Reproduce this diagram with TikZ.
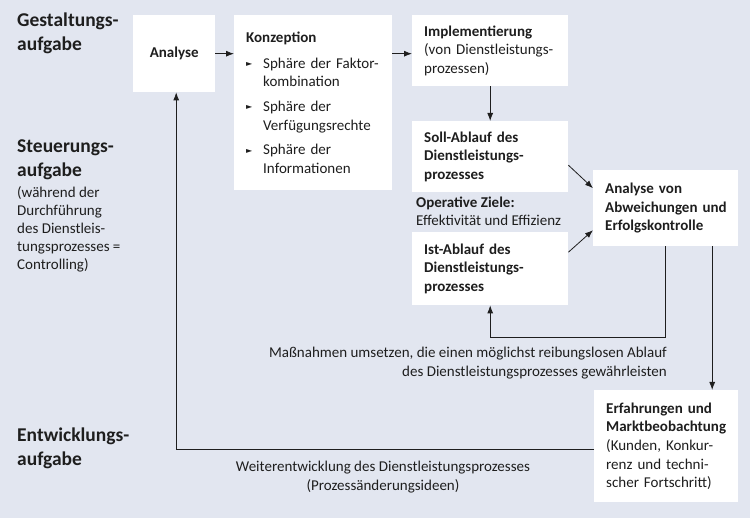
\documentclass[tikz,border=0pt]{standalone}
\usepackage{fontspec}
\setmainfont{Carlito}
\newfontfamily\symfont{DejaVu Sans}
\usetikzlibrary{arrows.meta}
\definecolor{bg}{RGB}{226,230,240}
\definecolor{ink}{RGB}{30,30,30}
\tikzset{
  box/.style={fill=white, inner xsep=12pt, inner ysep=0pt, anchor=north west, align=left,
              font=\fontsize{15}{18.7}\selectfont, text=ink},
  arr/.style={draw=ink, line width=0.8pt, -{Latex[length=8pt,width=6pt]}},
  lbl/.style={anchor=north west, align=left, inner sep=0pt, text=ink},
  big/.style={font=\fontsize{19.5}{23.5}\selectfont\bfseries},
  small/.style={font=\fontsize{15}{18.2}\selectfont},
  txt/.style={inner sep=0pt, text=ink, font=\fontsize{15}{18.7}\selectfont},
}
\newcommand{\bul}{\makebox[17pt][l]{\symfont\fontsize{8}{8}\selectfont\raisebox{1.5pt}{►}}}
\begin{document}
\begin{tikzpicture}[x=1pt,y=-1pt]
\fill[bg] (0,0) rectangle (750,518);
\useasboundingbox (0,0) rectangle (750,518);

% left labels
\node[lbl, big] (gest) at (17,13) {Gestaltungs-\\aufgabe};
\node[lbl, big] (steu) at (17,140) {Steuerungs-\\aufgabe};
\node[lbl, small] (steusub) at (17,186) {(während der\\Durchführung\\des Dienstleis-\\tungsprozesses =\\Controlling)};
\node[lbl, big] (entw) at (17,428) {Entwicklungs-\\aufgabe};

% boxes
\node[box, minimum width=82pt, minimum height=77pt, align=center, inner xsep=0pt] (analyse) at (133,15) {\textbf{Analyse}};
\node[box, minimum width=158pt, minimum height=175pt, text width=134pt] (konz) at (234,15)
  {\textbf{Konzeption}\\[7pt]
   \bul Sphäre der Faktor-\\\hspace*{17pt}kombination\\[6pt]
   \bul Sphäre der\\\hspace*{17pt}Verfügungsrechte\\[6pt]
   \bul Sphäre der\\\hspace*{17pt}Informationen};
\node[box, minimum width=156pt, minimum height=71pt, text width=132pt] (impl) at (412,15)
  {\textbf{Implementierung}\\(von Dienstleistungs-\\prozessen)};
\node[box, minimum width=156pt, minimum height=71pt, text width=132pt] (soll) at (412,121)
  {\textbf{Soll-Ablauf des}\\\textbf{Dienstleistungs-}\\\textbf{prozesses}};
\node[box, minimum width=156pt, minimum height=73pt, text width=132pt] (ist) at (412,232)
  {\textbf{Ist-Ablauf des}\\\textbf{Dienstleistungs-}\\\textbf{prozesses}};
\node[box, minimum width=145pt, minimum height=76pt, text width=121pt] (ava) at (593,170)
  {\textbf{Analyse von}\\\mbox{\textbf{Abweichungen und}}\\\textbf{Erfolgskontrolle}};
\node[box, minimum width=144pt, minimum height=112pt, text width=120pt] (erf) at (594,390)
  {\textbf{Erfahrungen und}\\\mbox{\textbf{Marktbeobachtung}}\\(Kunden, Konkur-\\renz und techni-\\scher Fortschritt)};

% free texts
\node[txt, anchor=north west, align=left] (ziele) at (416,197) {\textbf{Operative Ziele:}\\[-0.5pt]Effektivität und Effizienz};
\node[txt, anchor=north east, align=right] (mass) at (667,347) {Maßnahmen umsetzen, die einen möglichst reibungslosen Ablauf\\des Dienstleistungsprozesses gewährleisten};
\node[txt, anchor=north, align=center] (weiter) at (383,461) {Weiterentwicklung des Dienstleistungsprozesses\\(Prozessänderungsideen)};

% connectors
\draw[arr] (analyse.east) -- (konz.west |- analyse.east);
\draw[arr] (konz.east |- analyse.east) -- (impl.west |- analyse.east);
\draw[arr] (impl.south) -- (soll.north);
\draw[arr] ([yshift=-8.5pt]soll.east) -- ([yshift=20pt]ava.west);
\draw[arr] ([yshift=16.5pt]ist.east) -- ([yshift=-22pt]ava.west);
\draw[arr] (ava.south) |- ([yshift=-32pt]ist.south) -- (ist.south);
\draw[arr] ([xshift=46.5pt]ava.south) -- ([xshift=46.5pt]ava.south |- erf.north);
\draw[arr] ([yshift=-3pt]erf.west) -| ([xshift=2pt]analyse.south);
\end{tikzpicture}
\end{document}
